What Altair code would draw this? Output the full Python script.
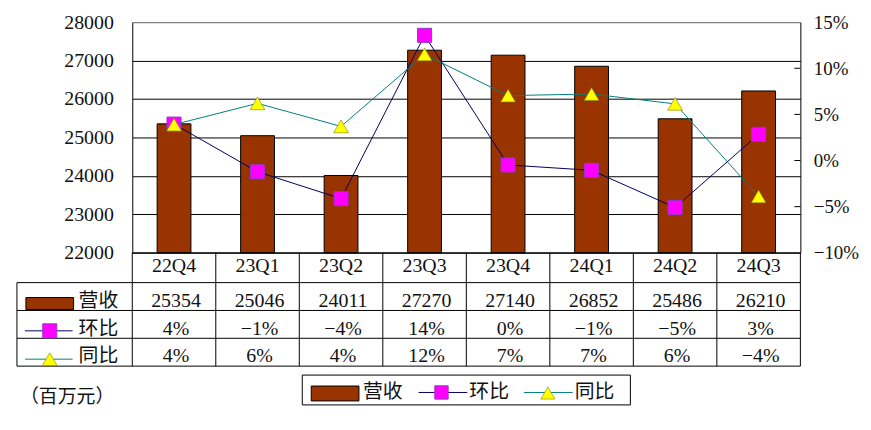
import altair as alt
import pandas as pd

# ---------------- data ----------------
cats = ["22Q4", "23Q1", "23Q2", "23Q3", "23Q4", "24Q1", "24Q2", "24Q3"]
revenue = [25354, 25046, 24011, 27270, 27140, 26852, 25486, 26210]
qoq = [0.0395, -0.0122, -0.0413, 0.1357, -0.0048, -0.0106, -0.0509, 0.0284]
yoy = [0.039, 0.062, 0.037, 0.115, 0.0704, 0.0721, 0.0614, -0.0389]
qoq_labels = ["4%", "−1%", "−4%", "14%", "0%", "−1%", "−5%", "3%"]
yoy_labels = ["4%", "6%", "4%", "12%", "7%", "7%", "6%", "−4%"]
left_ticks = [22000, 23000, 24000, 25000, 26000, 27000, 28000]
right_ticks = [-0.10, -0.05, 0.0, 0.05, 0.10, 0.15]
inner_ticks = [-0.05, 0.0, 0.05, 0.10]
series_names = ["营收", "环比", "同比"]
unit_label = "（百万元）"

FONT = "Liberation Serif, Noto Sans CJK SC"
BAR = "#993300"
QOQ_LINE = "#000060"
YOY_LINE = "#008080"
W, H = 672, 232
TXT = "#111111"

df = pd.DataFrame({"cat": cats, "revenue": revenue, "qoq": qoq, "yoy": yoy,
                   "qoq_label": qoq_labels, "yoy_label": yoy_labels})
tick_df = pd.DataFrame({"v": inner_ticks})
one = pd.DataFrame({"k": [0]})

xscale = alt.Scale(paddingInner=0, paddingOuter=0)
X = alt.X("cat:N", sort=cats, scale=xscale, axis=None)

left_axis = alt.Axis(values=left_ticks, grid=True,
                     gridColor={"condition": {"test": "datum.value === 28000", "value": "#808080"},
                                "value": "#000000"},
                     gridWidth=1, domainColor="#000", ticks=False, labelPadding=19,
                     labelFont=FONT, labelFontSize=20, labelColor=TXT, title=None,
                     format="d", orient="left")
right_axis = alt.Axis(values=right_ticks, grid=False, domainColor="#000", ticks=False,
                      labelPadding=13, labelFont=FONT, labelFontSize=19, labelColor=TXT,
                      title=None, format=".0%", orient="right", labelAlign="left")
rscale = alt.Scale(domain=[-0.10, 0.15], nice=False, zero=False)

base = alt.Chart(df)

bars = base.mark_bar(size=34, color=BAR, stroke="#000", strokeWidth=1).encode(
    x=X,
    y=alt.Y("revenue:Q", scale=alt.Scale(domain=[22000, 28000], nice=False, zero=False),
            axis=left_axis),
    y2=alt.datum(22000),
)

qoq_line = base.mark_line(color=QOQ_LINE, strokeWidth=1).encode(
    x=X, y=alt.Y("qoq:Q", scale=rscale, axis=right_axis))
qoq_pts = base.mark_point(shape="square", filled=True, size=200, fill="#FF00FF",
                          stroke="#9933CC", strokeWidth=1, opacity=1).encode(
    x=X, y=alt.Y("qoq:Q", scale=rscale, axis=right_axis))
yoy_line = base.mark_line(color=YOY_LINE, strokeWidth=1).encode(
    x=X, y=alt.Y("yoy:Q", scale=rscale, axis=right_axis))
yoy_pts = base.mark_point(shape="triangle-up", filled=True, size=220, fill="#FFFF00",
                          stroke="#808000", strokeWidth=0.6, opacity=1).encode(
    x=X, y=alt.Y("yoy:Q", scale=rscale, axis=right_axis))
rticks = alt.Chart(tick_df).mark_rule(color="#000", strokeWidth=1).encode(
    y=alt.Y("v:Q", scale=rscale, axis=right_axis),
    x=alt.value(W - 6), x2=alt.value(W))

right = alt.layer(rticks, qoq_line, qoq_pts, yoy_line, yoy_pts)


def hrule(y, x0, x1, color="#000"):
    return alt.Chart(one).mark_rule(color=color, strokeWidth=1).encode(
        x=alt.value(x0), x2=alt.value(x1), y=alt.value(y))


def vrule(x, y0, y1, color="#000"):
    return alt.Chart(one).mark_rule(color=color, strokeWidth=1).encode(
        x=alt.value(x), y=alt.value(y0), y2=alt.value(y1))


def label(text, x, y, size=20, align="left"):
    return alt.Chart(one).mark_text(text=text, align=align, baseline="middle", font=FONT,
                                    fontSize=size, color=TXT).encode(
        x=alt.value(x), y=alt.value(y))


ROW_Y = [245.5, 280.5, 309, 335.5]

decor = [
    hrule(0.5, 0, W, "#808080"),
    hrule(232, 0, W),
    hrule(262, -116, W),
    hrule(290, -116, W),
    hrule(318, -116, W),
    hrule(346, -116, W),
    vrule(-116, 262, 346),
    vrule(W, 232, 346),
    base.mark_rule(color="#000", strokeWidth=1).encode(
        x=alt.X("cat:N", sort=cats, scale=xscale, axis=None, bandPosition=0),
        y=alt.value(232), y2=alt.value(346)),
    base.mark_text(font=FONT, fontSize=20, color=TXT, baseline="middle").encode(
        x=X, y=alt.value(ROW_Y[0]), text="cat:N"),
    base.mark_text(font=FONT, fontSize=20, color=TXT, baseline="middle", dx=2).encode(
        x=X, y=alt.value(ROW_Y[1]), text=alt.Text("revenue:Q", format="d")),
    base.mark_text(font=FONT, fontSize=20, color=TXT, baseline="middle", dx=2).encode(
        x=X, y=alt.value(ROW_Y[2]), text="qoq_label:N"),
    base.mark_text(font=FONT, fontSize=20, color=TXT, baseline="middle", dx=2).encode(
        x=X, y=alt.value(ROW_Y[3]), text="yoy_label:N"),
    # row headers in table
    alt.Chart(one).mark_rect(fill=BAR, stroke="#000", strokeWidth=1).encode(
        x=alt.value(-107), x2=alt.value(-59), y=alt.value(277), y2=alt.value(289)),
    label(series_names[0], -54, ROW_Y[1]),
    hrule(310.5, -108, -60, QOQ_LINE),
    alt.Chart(one).mark_point(shape="square", filled=True, size=200, fill="#FF00FF",
                              stroke="#9933CC", strokeWidth=1, opacity=1).encode(
        x=alt.value(-83), y=alt.value(310.5)),
    label(series_names[1], -54, ROW_Y[2]),
    hrule(339, -108, -60, YOY_LINE),
    alt.Chart(one).mark_point(shape="triangle-up", filled=True, size=220, fill="#FFFF00",
                              stroke="#808000", strokeWidth=0.6, opacity=1).encode(
        x=alt.value(-83), y=alt.value(339)),
    label(series_names[2], -54, ROW_Y[3]),
    # bottom legend
    alt.Chart(one).mark_rect(fill="#FFFFFF", stroke="#000", strokeWidth=1).encode(
        x=alt.value(171), x2=alt.value(501), y=alt.value(355), y2=alt.value(385)),
    alt.Chart(one).mark_rect(fill=BAR, stroke="#000", strokeWidth=1).encode(
        x=alt.value(180), x2=alt.value(228), y=alt.value(366), y2=alt.value(381)),
    label(series_names[0], 232, 372.5),
    hrule(372.5, 288, 337, QOQ_LINE),
    alt.Chart(one).mark_point(shape="square", filled=True, size=180, fill="#FF00FF",
                              stroke="#9933CC", strokeWidth=1, opacity=1).encode(
        x=alt.value(311), y=alt.value(372.5)),
    label(series_names[1], 339, 372.5),
    hrule(372.5, 394, 443, YOY_LINE),
    alt.Chart(one).mark_point(shape="triangle-up", filled=True, size=200, fill="#FFFF00",
                              stroke="#808000", strokeWidth=0.6, opacity=1).encode(
        x=alt.value(418), y=alt.value(373)),
    label(series_names[2], 445, 372.5),
    label(unit_label, -113, 377, size=19),
]

chart = alt.layer(bars, right, *decor).resolve_scale(y="independent").properties(
    width=W, height=H,
    autosize=alt.AutoSizeParams(type="none"),
    padding={"left": 125, "top": 13, "right": 63, "bottom": 175},
).configure_view(stroke=None)

chart.save("out.html", embed_options={"renderer": "svg", "actions": False})
